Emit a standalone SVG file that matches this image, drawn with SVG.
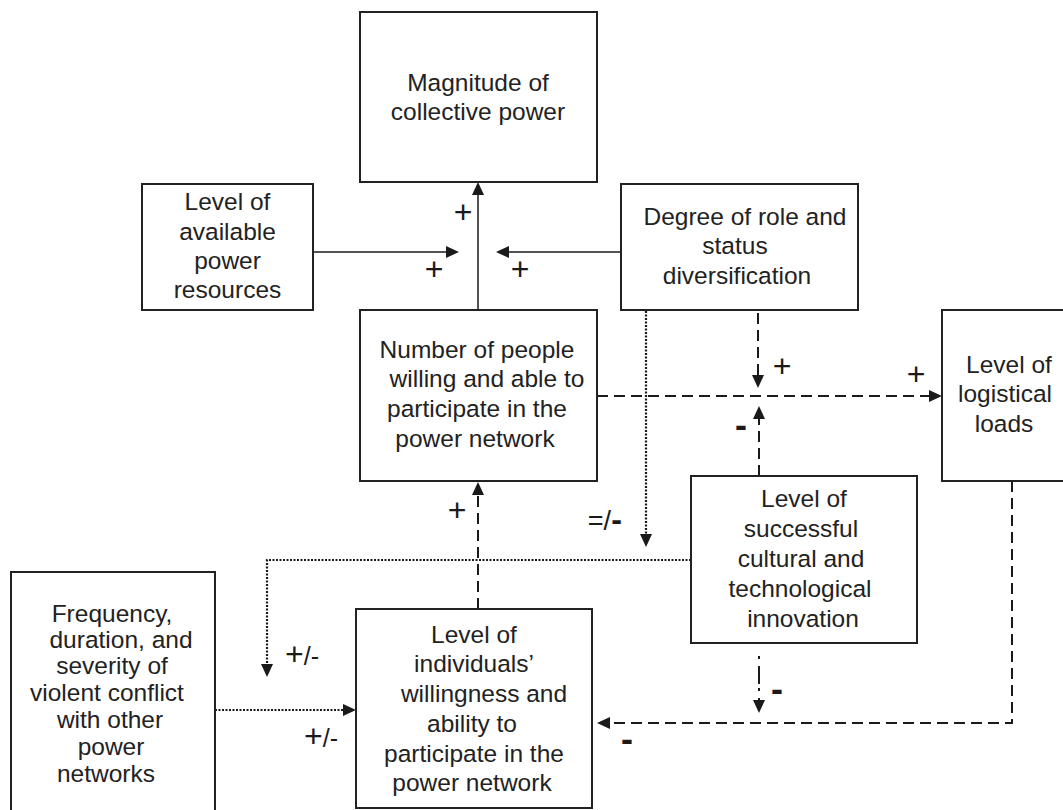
<svg xmlns="http://www.w3.org/2000/svg" width="1063" height="810" viewBox="0 0 1063 810">
<defs>
<marker id="ah" viewBox="0 0 13 12" refX="0" refY="6" markerWidth="13" markerHeight="12" markerUnits="userSpaceOnUse" orient="auto">
<path d="M0,0 L13,6 L0,12 z" fill="#1a1a1a"/>
</marker>
<style>
.box{fill:#fff;stroke:#222;stroke-width:2}
.t{font-family:"Liberation Sans",Arial,sans-serif;font-size:24.5px;fill:#222;text-anchor:middle}
.lbl{font-family:"Liberation Sans",Arial,sans-serif;fill:#1a1a1a;text-anchor:middle}
.plus{font-size:32px}
.minus{font-family:"DejaVu Sans",sans-serif;font-weight:bold;font-size:30px}
.c{fill:none;stroke:#1a1a1a;marker-end:url(#ah)}
.solid{stroke-width:1.5}
.dash{stroke-width:2;stroke-dasharray:11 6}
.dot{stroke-width:2.2;stroke-dasharray:2 1.5}
.dd{stroke-width:2;stroke-dasharray:3 7 18 4}
</style>
</defs>
<rect width="1063" height="810" fill="#fff"/>

<g id="connectors">
<line class="c solid" x1="478" y1="310" x2="478" y2="195"/>
<line class="c solid" x1="313" y1="252" x2="446" y2="252"/>
<line class="c solid" x1="621" y1="252" x2="509" y2="252"/>
<line class="c dash" x1="597" y1="396" x2="929" y2="396"/>
<line class="c dash" x1="758" y1="313" x2="758" y2="375"/>
<line class="c dash" x1="759" y1="476" x2="759" y2="419"/>
<line class="c dot" x1="646" y1="311" x2="646" y2="534"/>
<path class="c dot" d="M691,560 H267 V664"/>
<line class="c dash" x1="478" y1="609" x2="478" y2="495"/>
<line class="c dot" x1="215" y1="710" x2="343" y2="710"/>
<path class="c dash" d="M1012,481 V723 H610"/>
<line class="c dd" x1="759" y1="656" x2="759" y2="700"/>
</g>

<g id="labels">
<text class="lbl plus" x="463" y="223">+</text>
<text class="lbl plus" x="434" y="280">+</text>
<text class="lbl plus" x="520" y="280">+</text>
<text class="lbl plus" x="782" y="377">+</text>
<text class="lbl plus" x="916" y="385">+</text>
<text class="lbl minus" x="741" y="437">-</text>
<text class="lbl plus" x="457" y="521">+</text>
<text class="lbl" x="605" y="530" font-size="27">=/<tspan font-family="DejaVu Sans, sans-serif" font-weight="bold">-</tspan></text>
<text class="lbl" x="302" y="665"><tspan font-size="32">+</tspan><tspan font-size="25">/-</tspan></text>
<text class="lbl" x="321" y="747"><tspan font-size="32">+</tspan><tspan font-size="25">/-</tspan></text>
<text class="lbl minus" x="627" y="751">-</text>
<text class="lbl minus" x="777" y="701">-</text>
</g>

<g id="magnitude">
<rect class="box" x="360" y="12" width="237" height="170"/>
<text class="t" x="478" y="91">Magnitude of</text>
<text class="t" x="478" y="120">collective power</text>
</g>

<g id="resources">
<rect class="box" x="142" y="184" width="171" height="126"/>
<text class="t" x="227.5" y="210">Level of</text>
<text class="t" x="227.5" y="240">available</text>
<text class="t" x="227.5" y="269">power</text>
<text class="t" x="227.5" y="298">resources</text>
</g>

<g id="diversification">
<rect class="box" x="621" y="184" width="237" height="126"/>
<text class="t" x="745" y="225">Degree of role and</text>
<text class="t" x="735" y="254">status</text>
<text class="t" x="737" y="284">diversification</text>
</g>

<g id="people">
<rect class="box" x="360" y="310" width="237" height="171"/>
<text class="t" x="477" y="358">Number of people</text>
<text class="t" x="487" y="387">willing and able to</text>
<text class="t" x="477" y="417">participate in the</text>
<text class="t" x="475" y="447">power network</text>
</g>

<g id="logistics">
<rect class="box" x="942" y="310" width="135" height="171"/>
<text class="t" x="1009" y="373">Level of</text>
<text class="t" x="1005" y="402">logistical</text>
<text class="t" x="1004" y="432">loads</text>
</g>

<g id="innovation">
<rect class="box" x="691" y="476" width="226" height="167"/>
<text class="t" x="804" y="507">Level of</text>
<text class="t" x="801" y="537">successful</text>
<text class="t" x="801" y="567">cultural and</text>
<text class="t" x="800" y="597">technological</text>
<text class="t" x="803" y="627">innovation</text>
</g>

<g id="individuals">
<rect class="box" x="356" y="609" width="236" height="199"/>
<text class="t" x="474" y="643">Level of</text>
<text class="t" x="474" y="672">individuals’</text>
<text class="t" x="484" y="702">willingness and</text>
<text class="t" x="472" y="732">ability to</text>
<text class="t" x="474" y="762">participate in the</text>
<text class="t" x="472" y="791">power network</text>
</g>

<g id="conflict">
<rect class="box" x="11" y="572" width="204" height="242"/>
<text class="t" x="112" y="622">Frequency,</text>
<text class="t" x="121" y="648">duration, and</text>
<text class="t" x="112" y="674">severity of</text>
<text class="t" x="107" y="701">violent conflict</text>
<text class="t" x="110" y="728">with other</text>
<text class="t" x="111" y="755">power</text>
<text class="t" x="106" y="782">networks</text>
</g>
</svg>
